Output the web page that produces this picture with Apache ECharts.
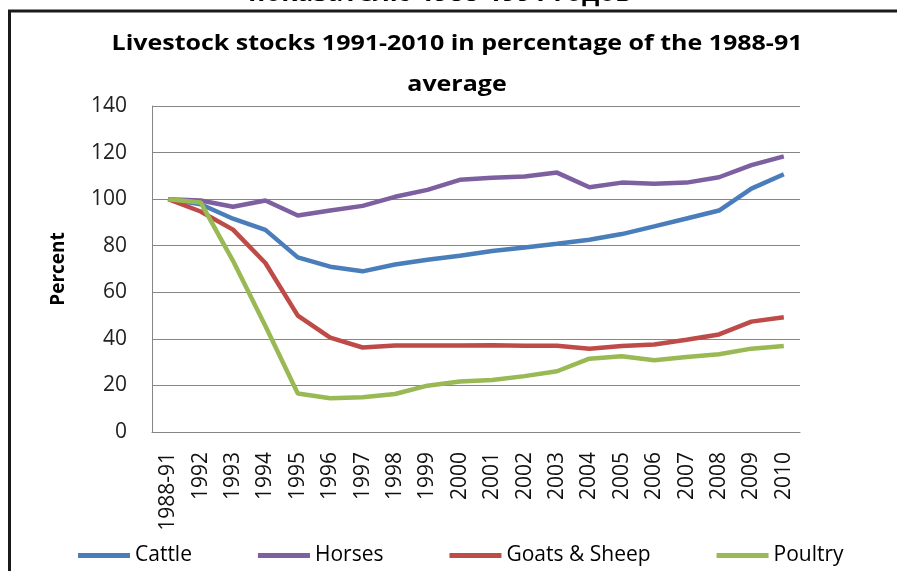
<!DOCTYPE html>
<html>
<head>
<meta charset="utf-8">
<script src="https://cdn.jsdelivr.net/npm/echarts@6/dist/echarts.min.js"></script>
<style>
html,body{margin:0;padding:0;background:#fff;}
#chart{width:897px;height:571px;}
</style>
</head>
<body>
<div id="chart"></div>
<script>
var categories = ['1988-91','1992','1993','1994','1995','1996','1997','1998','1999','2000','2001','2002','2003','2004','2005','2006','2007','2008','2009','2010'];
var cattle = [100, 97.8, 91.6, 86.8, 75, 71, 69, 71.9, 74, 75.7, 77.7, 79.2, 80.8, 82.6, 85, 88.3, 91.7, 95.1, 104.5, 110.7];
var horses = [100, 99.4, 96.7, 99.4, 93, 95.1, 97.1, 101, 104, 108.3, 109.2, 109.7, 111.4, 105.1, 107.1, 106.6, 107.1, 109.4, 114.6, 118.4];
var goatsSheep = [100, 94.7, 86.9, 72.6, 50, 40.5, 36.3, 37.1, 37.2, 37.2, 37.3, 37, 37, 35.8, 36.9, 37.6, 39.6, 41.9, 47.4, 49.3];
var poultry = [100, 98.6, 73.5, 45.5, 16.5, 14.5, 14.9, 16.3, 19.9, 21.7, 22.3, 24, 26.1, 31.5, 32.5, 30.8, 32.2, 33.4, 35.8, 36.9];
var yTicks = {min: 0, max: 140, interval: 20};

var FONT = '"Open Sans", "Noto Sans", sans-serif';
var chart = echarts.init(document.getElementById('chart'), null, {renderer: 'canvas'});

function mk(name, data, color) {
  return {
    name: name, type: 'line', data: data, symbol: 'none',
    lineStyle: {color: color, width: 4.5}, itemStyle: {color: color},
    emphasis: {disabled: true}, animation: false
  };
}

chart.setOption({
  animation: false,
  backgroundColor: '#fff',
  textStyle: {fontFamily: FONT},
  graphic: [
    {type: 'rect', shape: {x: 9.5, y: 11, width: 1000, height: 1000},
     style: {fill: 'none', stroke: '#1a1a1a', lineWidth: 3}, z: 100},
    {type: 'text', x: 440, y: 7,
     style: {text: 'показателю 1988-1991 годов', font: 'bold 26px ' + FONT, textAlign: 'center', textVerticalAlign: 'bottom', fill: '#000'}},
    {type: 'text', x: 457, y: 44, scaleX: 1.19,
     style: {text: 'Livestock stocks 1991-2010 in percentage of the 1988-91', font: 'bold 21px ' + FONT, textAlign: 'center', textVerticalAlign: 'middle', fill: '#000'}},
    {type: 'text', x: 457, y: 85, scaleX: 1.19,
     style: {text: 'average', font: 'bold 21px ' + FONT, textAlign: 'center', textVerticalAlign: 'middle', fill: '#000'}}
  ],
  legend: {
    left: 73, top: 540,
    icon: 'rect', itemWidth: 52, itemHeight: 5, itemGap: 66,
    textStyle: {fontFamily: FONT, fontSize: 21, color: '#000', padding: [0, 0, 0, 0]},
    data: ['Cattle', 'Horses', 'Goats & Sheep', 'Poultry']
  },
  grid: {left: 152, right: 97, top: 106, bottom: 139, containLabel: false},
  xAxis: {
    type: 'category', data: categories, boundaryGap: true,
    axisLine: {lineStyle: {color: '#868686', width: 1}},
    axisTick: {show: false},
    axisLabel: {rotate: 90, fontSize: 21, color: '#111', margin: 20, fontFamily: FONT, interval: 0}
  },
  yAxis: {
    type: 'value', min: yTicks.min, max: yTicks.max, interval: yTicks.interval,
    name: 'Percent', nameLocation: 'middle', nameGap: 84,
    nameTextStyle: {fontSize: 19, fontWeight: 'bold', color: '#000', fontFamily: FONT},
    axisLine: {show: true, lineStyle: {color: '#868686', width: 1}},
    axisTick: {show: false},
    axisLabel: {fontSize: 21, color: '#222', margin: 25, fontFamily: FONT},
    splitLine: {lineStyle: {color: '#868686', width: 1}}
  },
  series: [
    mk('Cattle', cattle, '#4A7EBB'),
    mk('Horses', horses, '#7D60A0'),
    mk('Goats & Sheep', goatsSheep, '#BE4B48'),
    mk('Poultry', poultry, '#98B954')
  ]
});
</script>
</body>
</html>
